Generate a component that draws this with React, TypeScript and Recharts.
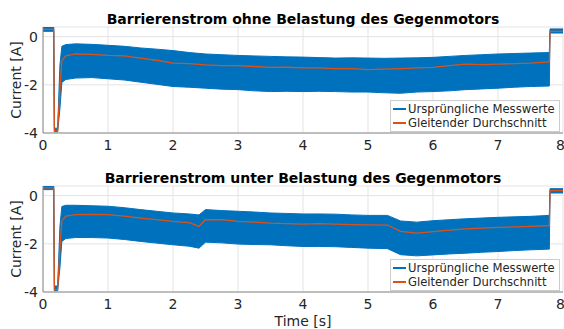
import React from "react"
import { ComposedChart, Area, Line, XAxis, YAxis, CartesianGrid, Legend } from "recharts"

// Zeitachse und Hüllkurven (obere/untere Grenze der Rohdaten) + gleitender Durchschnitt
const timeTop = [0, 0.165, 0.175, 0.225, 0.26, 0.29, 0.35, 0.5, 0.75, 1.0, 1.25, 1.5, 1.75, 2.0, 2.25, 2.5, 2.75, 3.0, 3.25, 3.5, 3.75, 4.0, 4.25, 4.5, 4.75, 5.0, 5.25, 5.5, 5.75, 6.0, 6.25, 6.5, 6.75, 7.0, 7.25, 7.5, 7.79, 7.8, 8.0]
const highTop = [0.4, 0.4, -3.8, -3.8, -1.2, -0.4, -0.33, -0.3, -0.32, -0.36, -0.4, -0.47, -0.52, -0.58, -0.66, -0.72, -0.75, -0.78, -0.8, -0.82, -0.84, -0.85, -0.87, -0.89, -0.88, -0.89, -0.9, -0.89, -0.88, -0.86, -0.82, -0.78, -0.75, -0.72, -0.7, -0.68, -0.66, 0.32, 0.32]
const lowTop = [0.22, 0.22, -3.95, -3.95, -3.0, -1.9, -1.78, -1.72, -1.7, -1.75, -1.8, -1.89, -1.98, -2.07, -2.1, -2.14, -2.18, -2.2, -2.25, -2.28, -2.27, -2.28, -2.27, -2.28, -2.3, -2.3, -2.33, -2.35, -2.3, -2.28, -2.25, -2.2, -2.17, -2.14, -2.1, -2.07, -2.05, 0.15, 0.15]
const meanTop = [0.3, 0.3, -3.9, -3.9, -2.2, -1.0, -0.8, -0.72, -0.74, -0.78, -0.8, -0.89, -0.98, -1.1, -1.12, -1.17, -1.2, -1.2, -1.24, -1.28, -1.27, -1.3, -1.3, -1.33, -1.33, -1.37, -1.35, -1.33, -1.3, -1.28, -1.2, -1.14, -1.16, -1.14, -1.12, -1.1, -1.05, 0.22, 0.22]

const timeBottom = [0, 0.165, 0.175, 0.225, 0.26, 0.29, 0.35, 0.5, 0.75, 1.0, 1.25, 1.5, 1.75, 2.0, 2.25, 2.4, 2.5, 2.75, 3.0, 3.25, 3.5, 3.75, 4.0, 4.25, 4.5, 4.75, 5.0, 5.3, 5.5, 5.75, 6.0, 6.25, 6.5, 6.75, 7.0, 7.25, 7.5, 7.79, 7.8, 8.0]
const highBottom = [0.42, 0.42, -3.75, -3.75, -1.3, -0.45, -0.4, -0.4, -0.42, -0.44, -0.5, -0.58, -0.65, -0.72, -0.76, -0.8, -0.58, -0.62, -0.65, -0.68, -0.72, -0.74, -0.76, -0.76, -0.77, -0.8, -0.82, -0.82, -1.05, -1.1, -1.04, -1.0, -0.96, -0.93, -0.9, -0.88, -0.86, -0.82, 0.29, 0.29]
const lowBottom = [0.25, 0.25, -3.95, -3.95, -3.0, -1.9, -1.78, -1.74, -1.74, -1.76, -1.82, -1.9, -1.97, -2.04, -2.1, -2.18, -1.93, -1.96, -2.01, -2.03, -2.04, -2.08, -2.11, -2.11, -2.12, -2.15, -2.18, -2.2, -2.45, -2.5, -2.46, -2.42, -2.39, -2.35, -2.32, -2.28, -2.25, -2.22, 0.11, 0.11]
const meanBottom = [0.32, 0.32, -3.9, -3.9, -2.2, -1.05, -0.85, -0.79, -0.78, -0.79, -0.85, -0.93, -1.0, -1.07, -1.12, -1.28, -1.0, -1.0, -1.07, -1.1, -1.14, -1.16, -1.18, -1.16, -1.18, -1.2, -1.21, -1.22, -1.48, -1.56, -1.49, -1.43, -1.38, -1.35, -1.32, -1.3, -1.28, -1.24, 0.21, 0.21]

const xTicks = [0, 1, 2, 3, 4, 5, 6, 7, 8]
const yTicks = [-4, -2, 0]

const FONT = '"DejaVu Sans", sans-serif'
const BLUE = "#0072BD"
const ORANGE = "#D95319"
const TEXT = "#262626"

const seriesColor: Record<string, string> = { band: BLUE, mean: ORANGE }
const seriesOrder = ["band", "mean"]

const buildRows = (t: number[], hi: number[], lo: number[], mean: number[]) =>
  t.map((x, i) => ({ t: x, band: [lo[i], hi[i]], mean: mean[i] }))

const renderLegend = (props: any) => {
  const payload: any[] = [...(props?.payload ?? [])].sort(
    (a, b) => seriesOrder.indexOf(a.dataKey) - seriesOrder.indexOf(b.dataKey)
  )
  return (
    <div style={{ border: "1px solid #cccccc", background: "#fff", padding: "1px 4px 1px 2px", fontSize: 11.6, lineHeight: "14px", fontFamily: FONT, color: TEXT, whiteSpace: "nowrap" }}>
      {payload.map((p) => (
        <div key={p.value} style={{ display: "flex", alignItems: "center" }}>
          <span style={{ display: "inline-block", width: 13, height: 2, background: seriesColor[p.dataKey] ?? p.color, marginRight: 2 }} />
          <span>{p.value}</span>
        </div>
      ))}
    </div>
  )
}

function Panel({ rows, height, xAxisHeight }: any) {
  return (
    <ComposedChart width={564} height={height} data={rows} margin={{ top: 27, right: 1, left: 0, bottom: 0 }}>
      <CartesianGrid stroke="#e3e3e3" />
      <XAxis
        dataKey="t"
        type="number"
        domain={[0, 8]}
        ticks={xTicks}
        height={xAxisHeight}
        tickLine={false}
        tickSize={4}
        tickMargin={3}
        axisLine={{ stroke: "#8a8a8a" }}
        tick={{ fill: TEXT, fontSize: 14 }}
        allowDataOverflow
      />
      <YAxis
        type="number"
        domain={[-4, 0.4]}
        ticks={yTicks}
        width={43}
        tickLine={false}
        tickSize={3}
        tickMargin={2}
        axisLine={{ stroke: "#8a8a8a" }}
        tick={{ fill: TEXT, fontSize: 14 }}
        allowDataOverflow
      />
      <Area
        type="linear"
        dataKey="band"
        name="Ursprüngliche Messwerte"
        legendType="line"
        fill={BLUE}
        fillOpacity={1}
        stroke={BLUE}
        strokeWidth={1}
        dot={false}
        activeDot={false}
        isAnimationActive={false}
      />
      <Line
        type="linear"
        dataKey="mean"
        name="Gleitender Durchschnitt"
        stroke={ORANGE}
        strokeWidth={1.3}
        dot={false}
        activeDot={false}
        isAnimationActive={false}
      />
      <Legend
        layout="horizontal"
        verticalAlign="middle"
        align="center"
        content={renderLegend}
        wrapperStyle={{ left: 390, top: 100, width: "auto", height: "auto" }}
      />
    </ComposedChart>
  )
}

const titleStyle: React.CSSProperties = {
  position: "absolute",
  left: 43,
  width: 520,
  textAlign: "center",
  fontWeight: "bold",
  fontSize: 14,
  lineHeight: "14px",
  color: "#000",
  whiteSpace: "nowrap",
}

const yLabelStyle: React.CSSProperties = {
  position: "absolute",
  left: 16,
  fontSize: 14,
  lineHeight: "14px",
  color: TEXT,
  whiteSpace: "nowrap",
  transform: "translate(-50%, -50%) rotate(-90deg)",
}

export default function App() {
  const topRows = buildRows(timeTop, highTop, lowTop, meanTop)
  const bottomRows = buildRows(timeBottom, highBottom, lowBottom, meanBottom)

  return (
    <div style={{ position: "absolute", left: 0, top: 0, width: 564, height: 329, background: "#fff", fontFamily: FONT, overflow: "hidden" }}>
      <div style={{ position: "absolute", left: 0, top: 0 }}>
        <Panel rows={topRows} height={160} xAxisHeight={27} />
      </div>
      <div style={{ position: "absolute", left: 0, top: 159 }}>
        <Panel rows={bottomRows} height={161} xAxisHeight={28} />
      </div>
      <div style={{ ...titleStyle, top: 12 }}>Barrierenstrom ohne Belastung des Gegenmotors</div>
      <div style={{ ...titleStyle, top: 171 }}>Barrierenstrom unter Belastung des Gegenmotors</div>
      <div style={{ ...yLabelStyle, top: 80 }}>Current [A]</div>
      <div style={{ ...yLabelStyle, top: 239 }}>Current [A]</div>
      <div style={{ position: "absolute", left: 43, width: 520, top: 314, textAlign: "center", fontSize: 14, lineHeight: "14px", color: TEXT }}>Time [s]</div>
    </div>
  )
}
